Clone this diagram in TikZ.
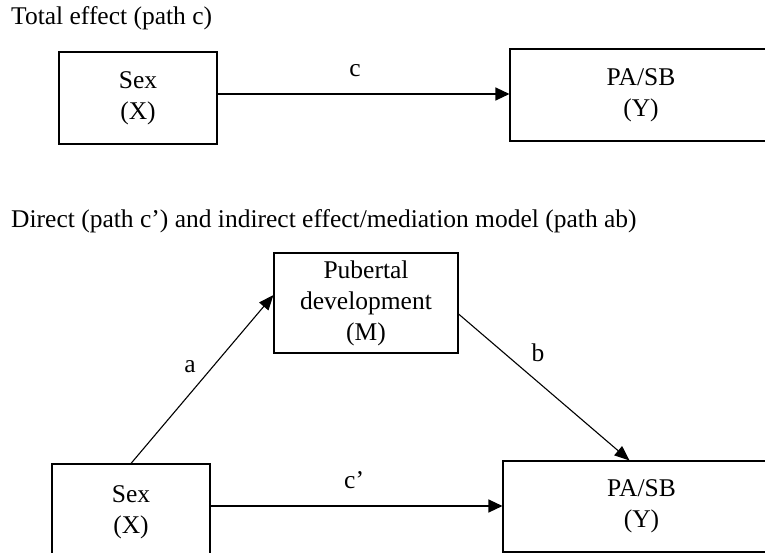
\documentclass[tikz,border=0pt]{standalone}
\usepackage{fontspec}
\setmainfont{Liberation Serif}
\usetikzlibrary{arrows.meta}
\begin{document}
\begin{tikzpicture}[x=1pt,y=-1pt,
  box/.style={draw=black,line width=1.1pt,inner sep=0pt,align=center,
    font=\fontsize{25.5}{31}\selectfont},
  lbl/.style={inner sep=0pt,font=\fontsize{25.5}{30}\selectfont},
  conn/.style={line width=1.3pt,-{Triangle[length=14pt,width=13pt]}},
  diag/.style={line width=1.1pt,-{Triangle[length=15pt,width=12pt]}}]
\useasboundingbox (0,0) rectangle (765,553);
\fill[white] (0,0) rectangle (765,553);
\clip (0,0) rectangle (765,553);

% titles
\node[lbl,anchor=base west] (t1) at (11,25) {Total effect (path c)};
\node[lbl,anchor=base west] (t2) at (11,228) {Direct (path c’) and indirect effect/mediation model (path ab)};

% total effect model
\node[box,minimum width=158pt,minimum height=92pt] (x1) at (138,98) {Sex\\(X)};
\node[box,minimum width=262pt,minimum height=92pt] (y1) at (641,95) {PA/SB\\(Y)};
\draw[conn] (x1.east |- 0,94) coordinate (x1e) -- (y1.west |- x1e);
\node[lbl,anchor=base] (lc) at (355,77) {c};

% mediation model
\node[box,minimum width=184pt,minimum height=100pt] (m) at (366,303) {Pubertal\\development\\(M)};
\node[box,minimum width=158pt,minimum height=96pt] (x2) at (131,512) {Sex\\(X)};
\node[box,minimum width=277pt,minimum height=91pt] (y2) at (641.5,506.5) {PA/SB\\(Y)};
\draw[diag] (x2.north) -- ([yshift=8pt]m.west);
\draw[diag] ([yshift=-11pt]m.east) -- ([xshift=-12pt]y2.north);
\draw[conn] (x2.east |- 0,506) coordinate (x2e) -- (y2.west |- x2e);
\node[lbl,anchor=base] (la) at (190,372) {a};
\node[lbl,anchor=base] (lb) at (538,361) {b};
\node[lbl,anchor=base west] (lcp) at (344,488) {c’};
\end{tikzpicture}
\end{document}
